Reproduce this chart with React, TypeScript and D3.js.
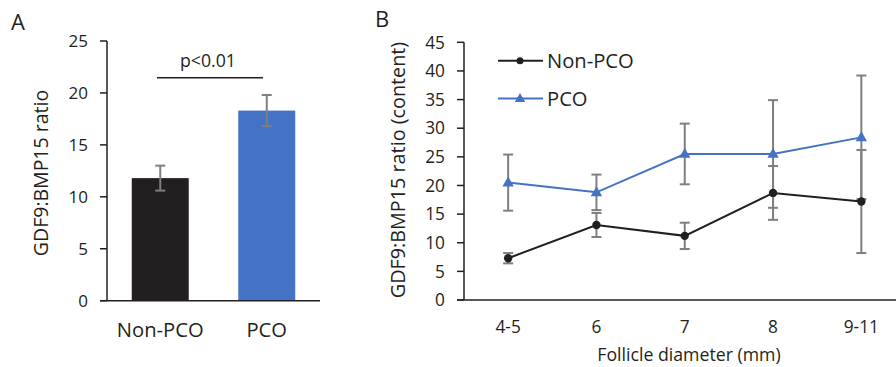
import React from "react";
import * as d3 from "d3";

const groupsA = ["Non-PCO", "PCO"];
const meansA = [11.8, 18.3];
const errsA = [1.2, 1.5];
const ticksA = [0, 5, 10, 15, 20, 25];

const diameters = ["4-5", "6", "7", "8", "9-11"];
const nonPco = [7.3, 13.1, 11.2, 18.7, 17.2];
const nonPcoErr = [0.9, 2.1, 2.3, 4.7, 9.0];
const pco = [20.5, 18.8, 25.5, 25.5, 28.4];
const pcoErr = [4.9, 3.1, 5.3, 9.4, 10.8];
const ticksB = [0, 5, 10, 15, 20, 25, 30, 35, 40, 45];

const FONT = "'Open Sans', 'Noto Sans', sans-serif";
const TEXT = "#231f20";
const AXIS = "#231f20";
const ERR = "#7f7f7f";
const BLACK = "#231f20";
const BLUE = "#4472c4";

export default function App() {
  const xA = d3.scaleBand<string>().domain(groupsA).range([107, 320]).paddingInner(0.465).paddingOuter(0.2325);
  const yA = d3.scaleLinear().domain([0, 25]).range([300.7, 41]);
  const xBand = d3.scaleBand<string>().domain(diameters).range([464, 905.5]).padding(0);
  const xB = (d: string) => (xBand(d) as number) + xBand.bandwidth() / 2;
  const yB = d3.scaleLinear().domain([0, 45]).range([300, 42.3]);

  const lineB = d3.line<number>().x((_, i) => xB(diameters[i])).y((v) => yB(v));

  const cap = 5;
  const errBar = (x: number, y0: number, y1: number, key: string) => (
    <g key={key} stroke={ERR} strokeWidth={2} fill="none">
      <line x1={x} x2={x} y1={y0} y2={y1} />
      <line x1={x - cap} x2={x + cap} y1={y0} y2={y0} />
      <line x1={x - cap} x2={x + cap} y1={y1} y2={y1} />
    </g>
  );

  const tri = (cx: number, cy: number, s = 6) =>
    `M${cx},${cy - s} L${cx + s * 0.95},${cy + s * 0.65} L${cx - s * 0.95},${cy + s * 0.65} Z`;

  return (
    <svg width={896} height={367} style={{ position: "absolute", left: 0, top: 0 }} fontFamily={FONT}>
      <rect width={896} height={367} fill="#fff" />
      {/* Panel A */}
      <text x={11} y={30} fontSize={22} fill={TEXT}>A</text>
      <text transform={`translate(48,173) rotate(-90)`} textAnchor="middle" fontSize={19.5} fill={TEXT}>
        GDF9:BMP15 ratio
      </text>
      {groupsA.map((g, i) => (
        <rect key={g} x={xA(g)} y={yA(meansA[i])} width={xA.bandwidth()} height={yA(0) - yA(meansA[i])}
          fill={i === 0 ? BLACK : BLUE} />
      ))}
      {groupsA.map((g, i) => {
        const cx = (xA(g) as number) + xA.bandwidth() / 2;
        return errBar(cx, yA(meansA[i] + errsA[i]), yA(meansA[i] - errsA[i]), "ea" + i);
      })}
      <line x1={107} x2={107} y1={yA(25)} y2={yA(0)} stroke={AXIS} strokeWidth={1.5} />
      <line x1={100} x2={320} y1={yA(0)} y2={yA(0)} stroke={AXIS} strokeWidth={1.5} />
      {ticksA.map((t) => (
        <g key={"ta" + t}>
          <line x1={100} x2={107} y1={yA(t)} y2={yA(t)} stroke={AXIS} strokeWidth={1.5} />
          <text x={88} y={yA(t)} dy="0.36em" textAnchor="end" fontSize={17} fill={TEXT}>{t}</text>
        </g>
      ))}
      {groupsA.map((g) => (
        <text key={"la" + g} x={(xA(g) as number) + xA.bandwidth() / 2} y={337} textAnchor="middle" fontSize={20.2} fill={TEXT}>
          {g}
        </text>
      ))}
      <line x1={157} x2={263} y1={77.7} y2={77.7} stroke={AXIS} strokeWidth={1.5} />
      <text x={208} y={67} textAnchor="middle" fontSize={17.7} fill={TEXT}>p&lt;0.01</text>

      {/* Panel B */}
      <text x={375} y={27} fontSize={22} fill={TEXT}>B</text>
      <text transform={`translate(405,170) rotate(-90)`} textAnchor="middle" fontSize={19.8} fill={TEXT}>
        GDF9:BMP15 ratio (content)
      </text>
      <line x1={464} x2={464} y1={yB(45)} y2={yB(0)} stroke={AXIS} strokeWidth={1.5} />
      <line x1={457} x2={906} y1={yB(0)} y2={yB(0)} stroke={AXIS} strokeWidth={1.5} />
      {ticksB.map((t) => (
        <g key={"tb" + t}>
          <line x1={457} x2={464} y1={yB(t)} y2={yB(t)} stroke={AXIS} strokeWidth={1.5} />
          <text x={445} y={yB(t)} dy="0.36em" textAnchor="end" fontSize={17.3} fill={TEXT}>{t}</text>
        </g>
      ))}
      {diameters.map((d) => (
        <text key={"lb" + d} x={xB(d)} y={333} textAnchor="middle" fontSize={17.3} fill={TEXT}>{d}</text>
      ))}
      <text x={689} y={361} textAnchor="middle" fontSize={17.7} fill={TEXT}>Follicle diameter (mm)</text>

      {diameters.map((d, i) => errBar(xB(d), yB(pco[i] + pcoErr[i]), yB(pco[i] - pcoErr[i]), "ep" + i))}
      {diameters.map((d, i) => errBar(xB(d), yB(nonPco[i] + nonPcoErr[i]), yB(nonPco[i] - nonPcoErr[i]), "en" + i))}

      <path d={lineB(pco) as string} fill="none" stroke={BLUE} strokeWidth={2} />
      <path d={lineB(nonPco) as string} fill="none" stroke={BLACK} strokeWidth={2} />
      {diameters.map((d, i) => (
        <path key={"mp" + i} d={tri(xB(d), yB(pco[i]))} fill={BLUE} />
      ))}
      {diameters.map((d, i) => (
        <circle key={"mn" + i} cx={xB(d)} cy={yB(nonPco[i])} r={4.2} fill={BLACK} />
      ))}

      {/* Legend */}
      <line x1={498} x2={543} y1={60.7} y2={60.7} stroke={BLACK} strokeWidth={2} />
      <circle cx={520} cy={60.7} r={3.5} fill={BLACK} />
      <text x={547} y={67.5} fontSize={20.2} fill={TEXT}>Non-PCO</text>
      <line x1={498} x2={543} y1={98.5} y2={98.5} stroke={BLUE} strokeWidth={2} />
      <path d={tri(520, 98.5, 5.5)} fill={BLUE} />
      <text x={547} y={105.5} fontSize={20.2} fill={TEXT}>PCO</text>
    </svg>
  );
}
